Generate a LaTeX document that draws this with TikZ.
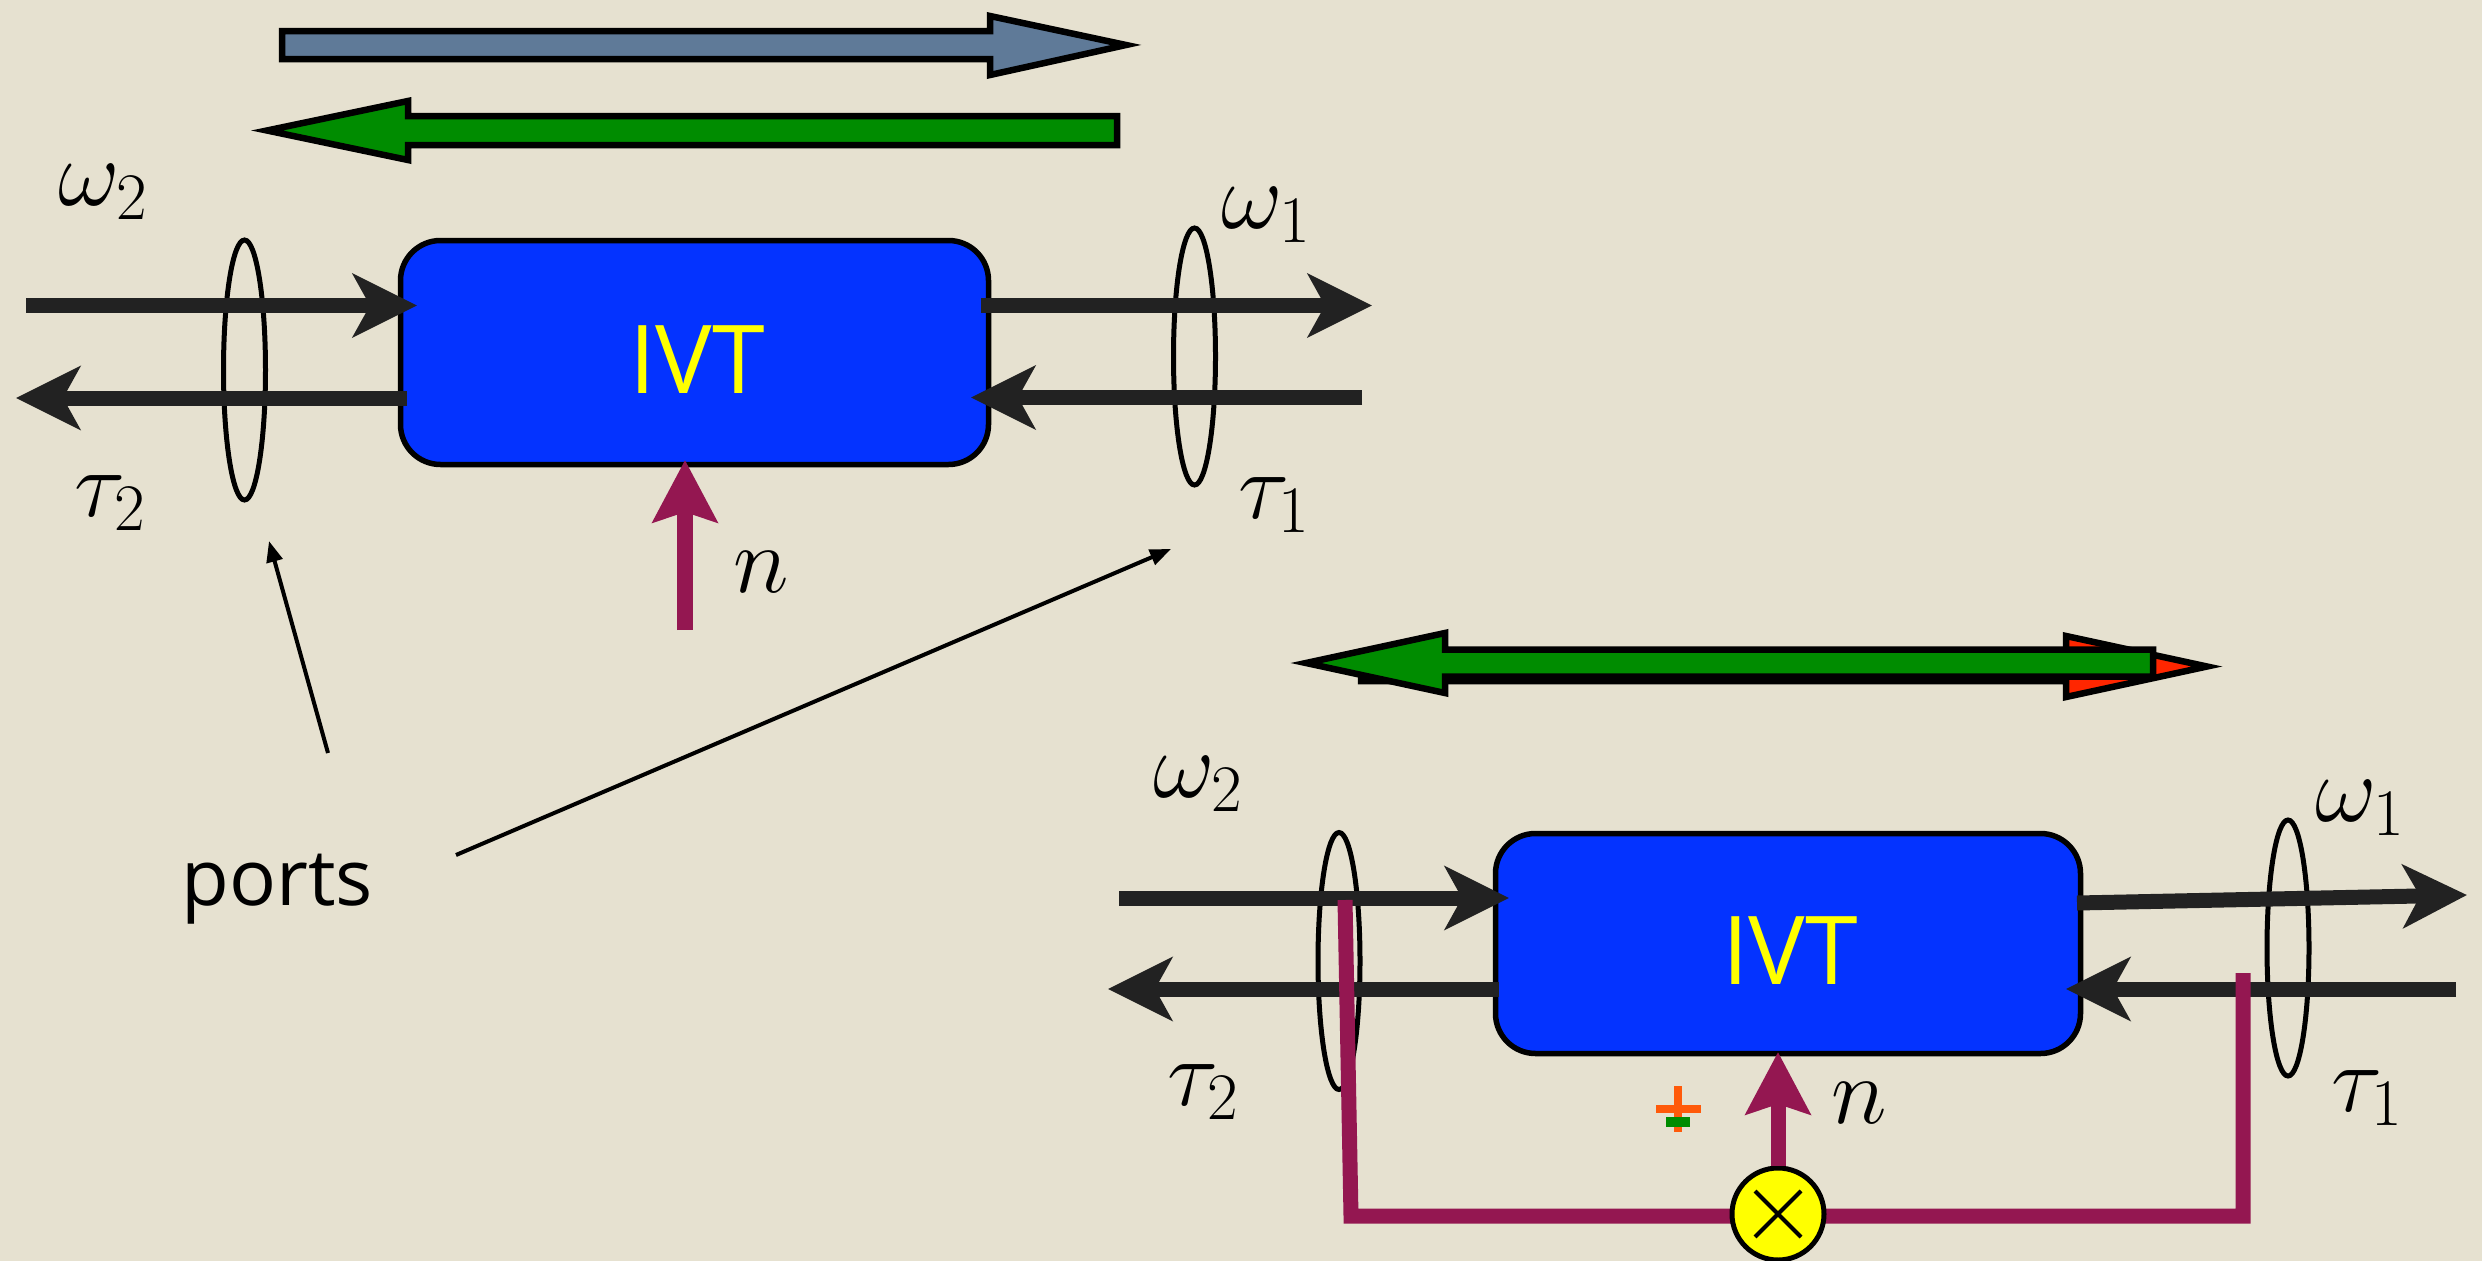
\RequirePackage{fix-cm}
\documentclass[tikz,border=0pt]{standalone}
\usepackage{fontspec}
\newfontfamily\osans{Open Sans}
\usetikzlibrary{arrows.meta,shapes.geometric,calc}
\definecolor{bg}{HTML}{E6E1D0}
\definecolor{ivtblue}{HTML}{0433FF}
\definecolor{dk}{HTML}{222222}
\definecolor{plum}{HTML}{941751}
\definecolor{slate}{HTML}{5F7A98}
\definecolor{grn}{HTML}{008C00}
\definecolor{redd}{HTML}{FF2600}
\definecolor{orng}{HTML}{FF5A0A}
\definecolor{yel}{HTML}{FFFF00}
\begin{document}
\begin{tikzpicture}[x=1pt,y=-1pt,
  sig/.style={draw=dk, line width=15pt, -{Stealth[length=64pt,width=63pt,inset=17pt]}},
  ivtbox/.style={draw=black, line width=5.5pt, fill=ivtblue, rounded corners=40pt, minimum width=588pt, minimum height=224pt, inner sep=0pt},
  ivttext/.style={text=yel, font=\osans\fontsize{95}{110}\selectfont, inner sep=0pt, anchor=base},
  lab/.style={inner sep=0pt, font=\fontsize{95}{110}\selectfont},
  port/.style={draw=black, line width=5pt, ellipse, minimum width=42pt, minimum height=260pt, inner sep=0pt},
  plumarrow/.style={draw=plum, line width=16pt, -{Stealth[length=62pt,width=64pt,inset=10pt]}},
  feedback/.style={draw=plum, line width=15pt, line join=miter},
  pointer/.style={draw=black, line width=4pt, -{Triangle[length=21pt,width=16pt]}},
  bigarrow/.style={draw=black, line width=6.5pt, line join=miter},
  mult/.style={circle, draw=black, line width=5pt, fill=yel, minimum size=92pt, inner sep=0pt}
]
\fill[bg] (0,0) rectangle (2482,1261);
\useasboundingbox (0,0) rectangle (2482,1261);

% banner arrows (top)
\filldraw[bigarrow, fill=slate] (282,31)--(990,31)--(990,16)--(1126,45)--(990,75)--(990,59)--(282,59)--cycle;
\filldraw[bigarrow, fill=grn] (1117,116)--(408,116)--(408,101)--(267,130.5)--(408,160)--(408,145)--(1117,145)--cycle;

% banner arrows (bottom)
\filldraw[bigarrow, fill=redd] (1361,652)--(2066,652)--(2066,636)--(2207,666.5)--(2066,697)--(2066,681)--(1361,681)--cycle;
\filldraw[bigarrow, fill=grn] (2153,649.5)--(1445,649.5)--(1445,633)--(1306,663)--(1445,693)--(1445,676.5)--(2153,676.5)--cycle;

% ---------- top IVT ----------
\node[ivtbox] (box1) at (694.5,352.5) {};
\node[ivttext] (t1) at (697,393) {IVT};

\node[port] (p1) at (244.5,370) {};
\node[port, minimum height=257pt] (p2) at (1194.5,356.5) {};

\coordinate (w2a) at (26,305.5);   \coordinate (w2b) at (417,305.5);
\coordinate (t2a) at (407,398);    \coordinate (t2b) at (16,398);
\coordinate (w1a) at (981,305.5);  \coordinate (w1b) at (1372,305.5);
\coordinate (t1a) at (1362,397.5); \coordinate (t1b) at (971,397.5);
\draw[sig] (w2a) -- (w2b);
\draw[sig] (t2a) -- (t2b);
\draw[sig] (w1a) -- (w1b);
\draw[sig] (t1a) -- (t1b);

\coordinate (n1a) at (685,630); \coordinate (n1b) at (685,460);
\draw[plumarrow] (n1a) -- (n1b);

\node[lab] (lw2) at (103,192) {$\omega_2$};
\node[lab] (lt2) at (110,503) {$\tau_2$};
\node[lab] (lw1) at (1266,215) {$\omega_1$};
\node[lab] (lt1) at (1274,505) {$\tau_1$};
\node[lab] (ln1) at (761,572) {$n$};

% ports
\node[font=\osans\fontsize{78}{90}\selectfont, anchor=base, inner sep=0pt] (ports) at (277,905) {ports};
\coordinate (pa) at (328,753); \coordinate (pb) at (269,541);
\coordinate (pc) at (456,855); \coordinate (pd) at (1171,549);
\draw[pointer] (pa) -- (pb);
\draw[pointer] (pc) -- (pd);

% ---------- bottom IVT ----------
\node[ivtbox, minimum width=585pt, minimum height=220pt] (box2) at (1788,943.5) {};
\node[ivttext] (t2) at (1790,984) {IVT};

\node[port, minimum height=257pt] (p3) at (1339,961) {};
\node[port, minimum height=256pt] (p4) at (2288,948) {};

\coordinate (bw2a) at (1119,898);  \coordinate (bw2b) at (1509,898);
\coordinate (bt2a) at (1499,989);  \coordinate (bt2b) at (1108,989);
\coordinate (bw1a) at (2077,903);  \coordinate (bw1b) at (2467,895);
\coordinate (bt1a) at (2456,989);  \coordinate (bt1b) at (2066,989);
\draw[sig] (bw2a) -- (bw2b);
\draw[sig] (bt2a) -- (bt2b);
\draw[sig] (bw1a) -- (bw1b);
\draw[sig] (bt1a) -- (bt1b);

% feedback loop
\coordinate (fb1) at (1345,900); \coordinate (fb2) at (1351,1216);
\coordinate (fb3) at (2243,1216); \coordinate (fb4) at (2243,973);
\draw[feedback] (fb1) -- (fb2) -- (fb3) -- (fb4);

\node[mult] (mul) at (1778,1214) {};
\draw[line width=4pt] ($(mul.center)+(-23,-23)$) -- ($(mul.center)+(23,23)$);
\draw[line width=4pt] ($(mul.center)+(-23,23)$) -- ($(mul.center)+(23,-23)$);
\coordinate (n2b) at (1778,1052);
\draw[plumarrow, line width=15pt] (mul.north) -- (n2b);

% plus/minus
\fill[orng] (1656,1105) rectangle (1701,1113);
\fill[orng] (1674,1086) rectangle (1682,1132);
\fill[grn] (1666,1117) rectangle (1690,1127);

\node[lab] (blw2) at (1198,784) {$\omega_2$};
\node[lab] (blt2) at (1203,1092) {$\tau_2$};
\node[lab] (blw1) at (2360,808) {$\omega_1$};
\node[lab] (blt1) at (2367,1098) {$\tau_1$};
\node[lab] (bln) at (1859,1103) {$n$};
\end{tikzpicture}
\end{document}
